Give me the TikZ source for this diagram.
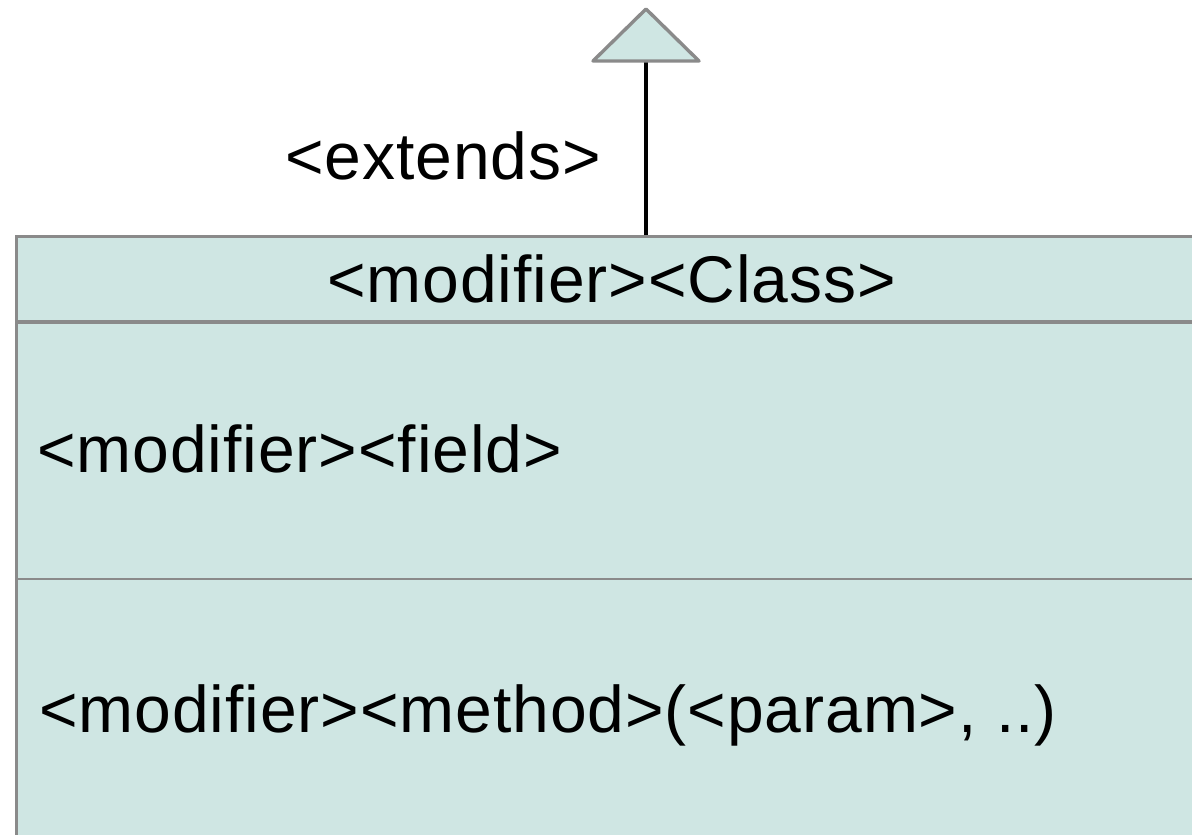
\documentclass[tikz,border=0pt]{standalone}
\usepackage{fontspec}
\setmainfont{Liberation Sans}[LetterSpace=1.4]
\definecolor{umlfill}{RGB}{207,230,227}
\definecolor{umlline}{RGB}{138,138,138}
\begin{document}
\begin{tikzpicture}[x=0.5pt,y=-0.5pt,
  lbl/.style={inner sep=0pt, anchor=base west, font=\fontsize{33}{40}\selectfont},
  classbox/.style={draw=umlline, fill=umlfill, line width=1.3pt, inner sep=0pt},
  headrule/.style={draw=umlline, line width=1.8pt},
  bodyrule/.style={draw=umlline, line width=1.1pt},
  genhead/.style={draw=umlline, fill=umlfill, line width=1.7pt, line join=round},
  link/.style={draw=black, line width=2pt}]
\useasboundingbox (0,0) rectangle (1192,834);
\clip (0,0) rectangle (1192,834);

% class box (runs past the right and bottom edges)
\node[classbox, anchor=north west, minimum width=593pt, minimum height=340pt] (cls) at (15,235) {};
\draw[headrule] (cls.west |- 0,322) -- (cls.east |- 0,322);
\draw[bodyrule] (cls.west |- 0,579) -- (cls.east |- 0,579);

% generalization arrow head
\coordinate (apex) at (646,9);
\coordinate (bl) at (593,61);
\coordinate (br) at (699,61);
\coordinate (base) at (646,61);
\coordinate (join) at (646,235);
\draw[link] (join) -- (base);
\draw[genhead] (apex) -- (br) -- (bl) -- cycle;

% labels
\node[lbl] (ext) at (285,180) {<extends>};
\node[lbl] (cname) at (327,302) {<modifier><Class>};
\node[lbl] (field) at (37,472) {<modifier><field>};
\node[lbl] (method) at (39,732) {<modifier><method>(<param>, ..)};
\end{tikzpicture}
\end{document}
